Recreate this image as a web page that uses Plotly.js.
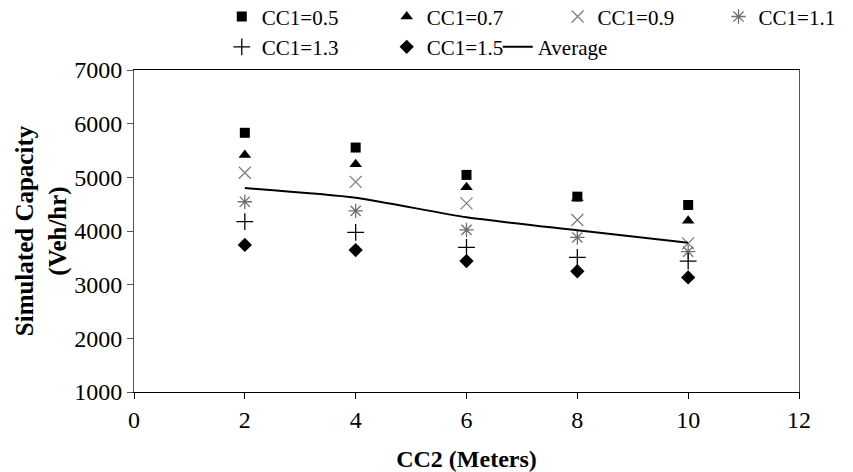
<!DOCTYPE html>
<html>
<head>
<meta charset="utf-8">
<script src="https://cdn.plot.ly/plotly-3.0.1.min.js"></script>
<style>html,body{margin:0;padding:0;background:#fff;}#chart{width:853px;height:472px;}</style>
</head>
<body>
<div id="chart"></div>
<script>
// CC2 spacing (meters)
const cc2 = [2, 4, 6, 8, 10];
// Simulated capacity (veh/hr) for each CC1 value
const cc1_05 = [5830, 5555, 5045, 4640, 4485];
const cc1_07 = [5415, 5245, 4815, 4610, 4190];
const cc1_09 = [5085, 4915, 4515, 4205, 3770];
const cc1_11 = [4545, 4375, 4020, 3880, 3615];
const cc1_13 = [4175, 3975, 3695, 3510, 3440];
const cc1_15 = [3740, 3645, 3440, 3250, 3135];
const average = [4800, 4620, 4255, 4015, 3780];

const seriesNames = ['CC1=0.5','CC1=0.7','CC1=0.9','CC1=1.1','CC1=1.3','CC1=1.5','Average'];
const FONT = "'Liberation Serif', 'Times New Roman', Times, serif";

function mk(y, name, symbol, size, color, lw, legend) {
  return {x: cc2, y: y, name: name, type: 'scatter', mode: 'markers', legend: legend,
    marker: {symbol: symbol, size: size, color: color, line: {color: color, width: lw}}};
}

const traces = [
  mk(cc1_05, seriesNames[0], 'square', 10, '#000', 0, 'legend'),
  mk(cc1_07, seriesNames[1], 'triangle-up', 11, '#000', 0, 'legend2'),
  mk(cc1_09, seriesNames[2], 'x-thin-open', 12, '#7f7f7f', 1.3, 'legend3'),
  mk(cc1_11, seriesNames[3], 'asterisk-open', 12, '#6f6f6f', 1.3, 'legend4'),
  mk(cc1_13, seriesNames[4], 'cross-thin-open', 12, '#000', 1.3, 'legend5'),
  mk(cc1_15, seriesNames[5], 'diamond', 11, '#000', 0, 'legend6'),
  {x: cc2, y: average, name: seriesNames[6], type: 'scatter', mode: 'lines', legend: 'legend7',
   line: {color: '#000', width: 2, shape: 'spline', smoothing: 0.6}}
];

function lg(x, y) {
  return {orientation: 'h', xanchor: 'left', yanchor: 'middle', x: x, y: y,
    bgcolor: 'rgba(0,0,0,0)', borderwidth: 0,
    font: {family: FONT, size: 21, color: '#000'}, itemwidth: 30};
}
const ROW1 = 1.165, ROW2 = 1.071;

const layout = {
  width: 853, height: 472,
  margin: {l: 134, r: 54, t: 70, b: 80, autoexpand: false},
  paper_bgcolor: '#fff', plot_bgcolor: '#fff',
  font: {family: FONT, size: 22, color: '#000'},
  showlegend: true,
  legend: lg(0.132, ROW1),
  legend2: lg(0.380, ROW1),
  legend3: lg(0.637, ROW1),
  legend4: lg(0.879, ROW1),
  legend5: lg(0.132, ROW2),
  legend6: lg(0.380, ROW2),
  legend7: lg(0.547, ROW2),
  xaxis: {
    range: [0, 12], dtick: 2, tick0: 0,
    showgrid: false, zeroline: false,
    showline: true, linecolor: '#000', linewidth: 1, mirror: true,
    ticks: 'outside', ticklen: 6, tickcolor: '#000',
    tickfont: {family: FONT, size: 24},
    title: {text: '<b>CC2 (Meters)</b>', font: {family: FONT, size: 24}, standoff: 18}
  },
  yaxis: {
    range: [1000, 7000], dtick: 1000, tick0: 1000,
    showgrid: false, zeroline: false,
    showline: true, linecolor: '#555', linewidth: 1, mirror: true,
    ticks: 'outside', ticklen: 6, tickcolor: '#555',
    tickfont: {family: FONT, size: 24},
    title: {text: '<b>Simulated Capacity<br>(Veh/hr)</b>', font: {family: FONT, size: 25}, standoff: 0}
  }
};

Plotly.newPlot('chart', traces, layout, {displayModeBar: false, staticPlot: true});
</script>
</body>
</html>
